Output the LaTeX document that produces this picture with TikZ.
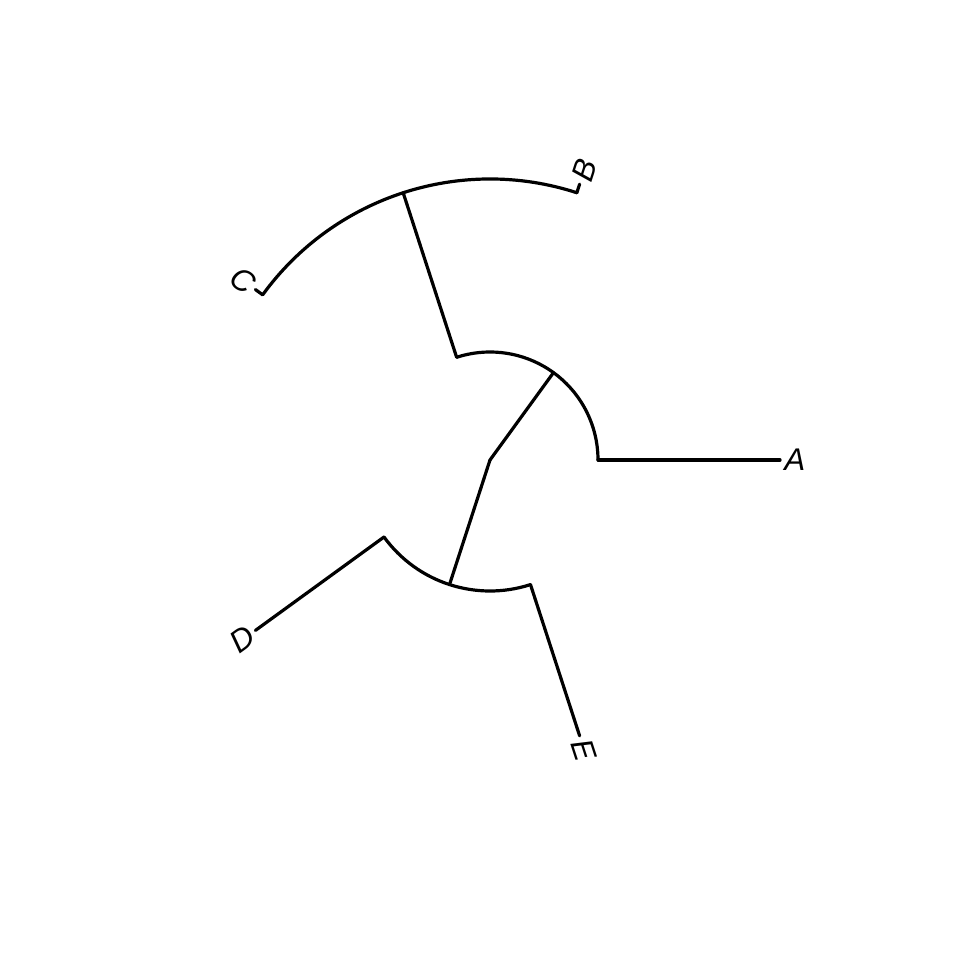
\documentclass[tikz,border=0pt]{standalone}
\usepackage{fontspec}
\setmainfont{Liberation Sans}
\begin{document}
\begin{tikzpicture}[x=0.75pt,y=0.75pt,
  br/.style={line width=2.4pt,line cap=round,line join=round},
  tip/.style={font=\fontsize{23.5}{25}\selectfont\itshape,inner sep=0pt,anchor=west},
  tipl/.style={tip,anchor=east}]
\useasboundingbox (0,0) rectangle (960,960);
\coordinate (root) at (490,500);
% internal nodes
\coordinate (n1) at ([shift={(54:108)}]root);
\coordinate (n1a) at ([shift={(0:108)}]root);
\coordinate (n1b) at ([shift={(108:108)}]root);
\coordinate (n2) at ([shift={(108:281)}]root);
\coordinate (n2a) at ([shift={(72:281)}]root);
\coordinate (n2b) at ([shift={(144:281)}]root);
\coordinate (n3) at ([shift={(252:131)}]root);
\coordinate (n3a) at ([shift={(216:131)}]root);
\coordinate (n3b) at ([shift={(288:131)}]root);
% tips
\coordinate (tA) at ([shift={(0:290)}]root);
\coordinate (tB) at ([shift={(72:290)}]root);
\coordinate (tC) at ([shift={(144:290)}]root);
\coordinate (tD) at ([shift={(216:290)}]root);
\coordinate (tE) at ([shift={(288:290)}]root);
% branches
\draw[br] (root) -- (n1);
\draw[br] (n1a) arc[start angle=0,end angle=108,radius=81pt];
\draw[br] (n1a) -- (tA);
\draw[br] (n1b) -- (n2);
\draw[br] (n2a) arc[start angle=72,end angle=144,radius=210.75pt];
\draw[br] (n2a) -- (tB);
\draw[br] (n2b) -- (tC);
\draw[br] (root) -- (n3);
\draw[br] (n3a) arc[start angle=216,end angle=288,radius=98.25pt];
\draw[br] (n3a) -- (tD);
\draw[br] (n3b) -- (tE);
% labels
\node[tip,rotate=0] (lA) at ([shift={(0:294)}]root) {A};
\node[tip,rotate=72] (lB) at ([shift={(72:294)}]root) {B};
\node[tipl,rotate=-36] (lC) at ([shift={(144:294)}]root) {C};
\node[tipl,rotate=36] (lD) at ([shift={(216:294)}]root) {D};
\node[tip,rotate=288] (lE) at ([shift={(288:294)}]root) {E};
\end{tikzpicture}
\end{document}
